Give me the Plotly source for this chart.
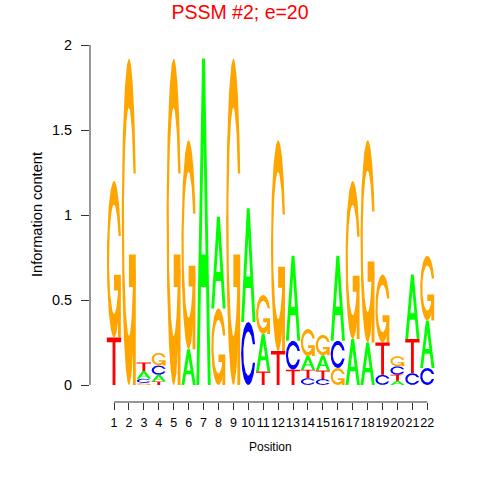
import numpy as np
import plotly.graph_objects as go

# ---------------- data (information content per letter) ----------------
positions = list(range(1, 23))
tick_labels = [str(p) for p in positions]
a_vals = [0, 0, 0.045, 0.04, 0, 0.21, 1.92, 0.54, 0, 0.67, 0.22, 0, 0.50, 0.08, 0.09, 0.50, 0.27, 0.25, 0, 0.025, 0.38, 0.28]
c_vals = [0, 0, 0.025, 0.055, 0, 0, 0, 0, 0, 0.37, 0, 0, 0.17, 0.04, 0.035, 0.16, 0, 0, 0.06, 0.05, 0.07, 0.10]
g_vals = [0.92, 1.92, 0.012, 0.075, 1.92, 1.23, 0, 0.45, 1.92, 0, 0.23, 1.24, 0, 0.16, 0.12, 0.10, 0.93, 1.19, 0.40, 0.06, 0, 0.38]
t_vals = [0.28, 0, 0.05, 0.02, 0, 0, 0, 0, 0, 0, 0.08, 0.20, 0.09, 0.05, 0.05, 0, 0, 0, 0.19, 0.035, 0.20, 0]
y_ticks = [0, 0.5, 1, 1.5, 2]
y_tick_labels = ["0", "0.5", "1", "1.5", "2"]

COLORS = {"A": "#00FF00", "C": "#0000FF", "G": "#FFA500", "T": "#FF0000"}
FONT = "Liberation Sans, Arial, Helvetica, sans-serif"
LW = 0.96  # letter width as fraction of column

# ---------------- unit glyph outlines (seqLogo style) ----------------
def glyph_c():
    a1 = np.linspace(0.3 + np.pi / 2, np.pi, 100)
    a2 = np.linspace(np.pi, 1.5 * np.pi, 100)
    xl1 = 0.5 + 0.5 * np.sin(a1); yl1 = 0.5 + 0.5 * np.cos(a1)
    xl2 = 0.5 + 0.5 * np.sin(a2); yl2 = 0.5 + 0.5 * np.cos(a2)
    xl = np.concatenate([xl1, xl2]); yl = np.concatenate([yl1, yl2])
    x = np.concatenate([xl, xl[::-1]]); y = np.concatenate([yl, 1 - yl[::-1]])
    xi1 = 0.5 + 0.35 * np.sin(a1); yi1 = 0.5 + 0.35 * np.cos(a1)
    m = yi1 <= yl1.max()
    xi1 = xi1[m]; yi1 = yi1[m].copy(); yi1[0] = yl1.max()
    xi2 = 0.5 + 0.35 * np.sin(a2); yi2 = 0.5 + 0.35 * np.cos(a2)
    xi = np.concatenate([xi1, xi2]); yi = np.concatenate([yi1, yi2])
    x1 = np.concatenate([xi, xi[::-1]]); y1 = np.concatenate([yi, 1 - yi[::-1]])
    x = np.concatenate([x, x1[::-1]]); y = np.concatenate([y, y1[::-1]])
    return x, y, float(xl1.max())

CX, CY, R1 = glyph_c()
G_BAR = (np.array([R1, 0.5, 0.5, R1 - 0.2, R1 - 0.2, R1]),
         np.array([0.4, 0.4, 0.3, 0.3, 0.0, 0.0]))
A_OUT = (np.array([0, 0.4, 0.6, 1, 0.8, 0.68, 0.32, 0.2]),
         np.array([0, 1, 1, 0, 0, 0.3, 0.3, 0]))
A_HOLE = (np.array([0.36, 0.5, 0.64]), np.array([0.4, 0.75, 0.4]))
T_OUT = (np.array([0, 1, 1, 0.6, 0.6, 0.4, 0.4, 0]),
         np.array([1, 1, 0.9, 0.9, 0, 0, 0.9, 0.9]))

SHAPES = {"A": [A_OUT], "C": [(CX, CY)], "G": [(CX, CY)], "T": [T_OUT]}

segs = {k: ([], []) for k in ["A", "C", "G", "T", "Gbar", "hole"]}

def add(key, gx, gy, pos, base, h):
    xs, ys = segs[key]
    xs.extend(list(pos - LW / 2 + LW * gx) + [None])
    ys.extend(list(base + h * gy) + [None])

for i, pos in enumerate(positions):
    col = {"A": a_vals[i], "C": c_vals[i], "G": g_vals[i], "T": t_vals[i]}
    base = 0.0
    for letter, h in sorted(col.items(), key=lambda kv: kv[1]):
        if h <= 0:
            continue
        for gx, gy in SHAPES[letter]:
            add(letter, gx, gy, pos, base, h)
        if letter == "G":
            add("Gbar", G_BAR[0], G_BAR[1], pos, base, h)
        if letter == "A":
            add("hole", A_HOLE[0], A_HOLE[1], pos, base, h)
        base += h

fig = go.Figure()
for key, color in [("A", COLORS["A"]), ("C", COLORS["C"]), ("G", COLORS["G"]),
                   ("Gbar", COLORS["G"]), ("T", COLORS["T"]), ("hole", "#FFFFFF")]:
    xs, ys = segs[key]
    fig.add_trace(go.Scatter(x=xs, y=ys, mode="lines", fill="toself",
                             fillcolor=color, line=dict(width=0, color=color),
                             hoverinfo="skip", showlegend=False))

AX = "#333333"
fig.update_layout(
    width=480, height=480,
    margin=dict(l=90, r=40, t=45, b=78, autoexpand=False),
    paper_bgcolor="white", plot_bgcolor="white",
    font=dict(family=FONT, color="black"),
    title=dict(text="PSSM #2; e=20", font=dict(family=FONT, size=19.5, color="#FF0000"),
               x=0.5, xref="container", xanchor="center",
               y=1 - 12 / 480, yref="container", yanchor="middle"),
    xaxis=dict(range=[-0.609, 22.85], tickmode="array", tickvals=positions,
               ticktext=tick_labels, ticks="outside", ticklen=7, tickcolor=AX,
               tickwidth=1, showgrid=False, zeroline=False, showline=False,
               tickangle=0, automargin=False,
               tickfont=dict(size=12.5, color="black"), ticklabelstandoff=2,
               fixedrange=True),
    yaxis=dict(range=[-0.1, 2.0], tickmode="array", tickvals=y_ticks,
               ticktext=y_tick_labels, ticks="outside", ticklen=8, tickcolor=AX,
               tickwidth=1, showgrid=False, zeroline=False, showline=False,
               automargin=False,
               tickfont=dict(size=14.4, color="black"), ticklabelstandoff=6,
               fixedrange=True),
    shapes=[
        dict(type="line", xref="x", yref="paper", x0=positions[0], x1=positions[-1],
             y0=0, y1=0, line=dict(color=AX, width=1)),
        dict(type="line", xref="paper", yref="y", x0=0, x1=0,
             y0=y_ticks[0], y1=y_ticks[-1], line=dict(color=AX, width=1)),
    ],
    annotations=[
        dict(text="Position", xref="x", x=11.5, yref="paper", y=0, yshift=-45,
             xanchor="center", yanchor="middle", showarrow=False,
             font=dict(size=12, color="black")),
        dict(text="Information content", xref="paper", x=0, xshift=-53,
             yref="y", y=1, xanchor="center", yanchor="middle", textangle=-90,
             showarrow=False, font=dict(size=14.6, color="black")),
    ],
)

fig.write_html("out.html", config={"displayModeBar": False, "staticPlot": True},
               post_script="document.body.style.margin='0';document.body.style.padding='0';")
